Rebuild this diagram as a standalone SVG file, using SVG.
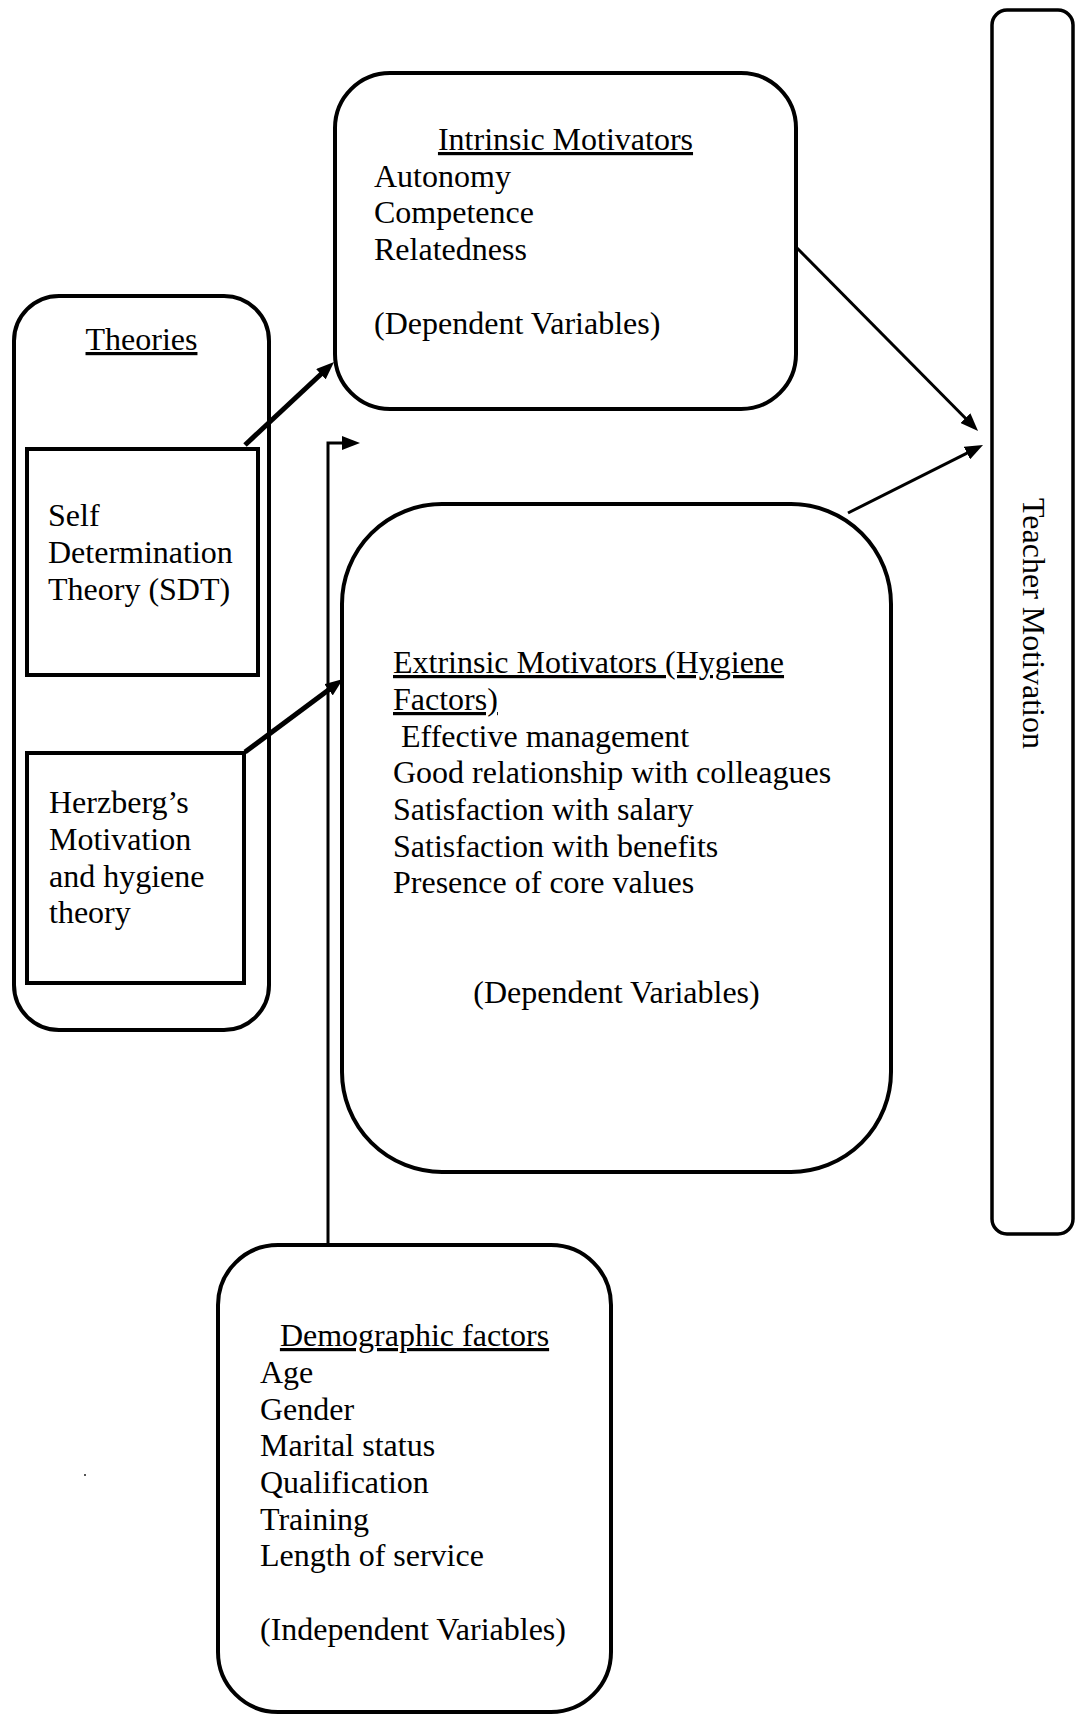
<svg xmlns="http://www.w3.org/2000/svg" width="1075" height="1715" viewBox="0 0 1075 1715">
<style>
text{font-family:"Liberation Serif","Times New Roman",serif;font-size:32px;fill:#000}
.u{text-decoration:underline}
.box{fill:none;stroke:#000;stroke-width:4}
.c{text-anchor:middle}
.thick{fill:none;stroke:#000;stroke-width:5}
.thin{fill:none;stroke:#000;stroke-width:3}
</style>
<defs>
<marker id="ah" markerUnits="userSpaceOnUse" markerWidth="18" markerHeight="14" refX="4" refY="7" orient="auto">
<path d="M0,0 L18,7 L0,14 z" fill="#000"/>
</marker>
</defs>
<rect width="1075" height="1715" fill="#fff"/>

<g id="theories">
<rect class="box" x="14" y="296" width="255" height="734" rx="45"/>
<text class="c u" x="141.5" y="350">Theories</text>
</g>

<g id="sdt">
<rect class="box" x="27" y="449" width="231" height="226"/>
<text x="48" y="526">Self</text>
<text x="48" y="563">Determination</text>
<text x="48" y="599.5">Theory (SDT)</text>
</g>

<g id="herzberg">
<rect class="box" x="27" y="753" width="217" height="230"/>
<text x="49" y="813">Herzberg’s</text>
<text x="49" y="850">Motivation</text>
<text x="49" y="886.5">and hygiene</text>
<text x="49" y="923">theory</text>
</g>

<g id="intrinsic">
<rect class="box" x="335" y="73" width="461" height="336" rx="55"/>
<text class="c u" x="565.5" y="150">Intrinsic Motivators</text>
<text x="374" y="186.7">Autonomy</text>
<text x="374" y="223.4">Competence</text>
<text x="374" y="260">Relatedness</text>
<text x="374" y="333.5">(Dependent Variables)</text>
</g>

<g id="extrinsic">
<rect class="box" x="342" y="504" width="549" height="668" rx="100"/>
<text class="u" x="393" y="673">Extrinsic Motivators (Hygiene</text>
<text class="u" x="393" y="710">Factors)</text>
<text x="393" y="747" xml:space="preserve"> Effective management</text>
<text x="393" y="783">Good relationship with colleagues</text>
<text x="393" y="820">Satisfaction with salary</text>
<text x="393" y="856.5">Satisfaction with benefits</text>
<text x="393" y="893">Presence of core values</text>
<text class="c" x="616.5" y="1003">(Dependent Variables)</text>
</g>

<g id="teacher">
<rect x="992" y="10" width="81" height="1224" rx="15" fill="none" stroke="#000" stroke-width="3.5"/>
<text transform="translate(1023,498) rotate(90)">Teacher Motivation</text>
</g>

<g id="demographic">
<rect class="box" x="218" y="1245" width="393" height="467" rx="60"/>
<text class="c u" x="414.5" y="1346">Demographic factors</text>
<text x="260" y="1383">Age</text>
<text x="260" y="1419.5">Gender</text>
<text x="260" y="1456">Marital status</text>
<text x="260" y="1493">Qualification</text>
<text x="260" y="1529.5">Training</text>
<text x="260" y="1566">Length of service</text>
<text x="260" y="1639.5">(Independent Variables)</text>
</g>

<rect x="84" y="1474" width="2" height="2" fill="#555"/>

<g id="connectors">
<line class="thick" x1="245" y1="445" x2="323.8" y2="371.5" marker-end="url(#ah)"/>
<line class="thick" x1="245" y1="752" x2="331.8" y2="687.4" marker-end="url(#ah)"/>
<line class="thin" x1="797" y1="248" x2="968.2" y2="421" marker-end="url(#ah)"/>
<line class="thin" x1="848" y1="513" x2="970.5" y2="451.3" marker-end="url(#ah)"/>
<path class="thin" d="M328,1246 V443 H346" stroke-width="3.5" marker-end="url(#ah)"/>
</g>
</svg>
